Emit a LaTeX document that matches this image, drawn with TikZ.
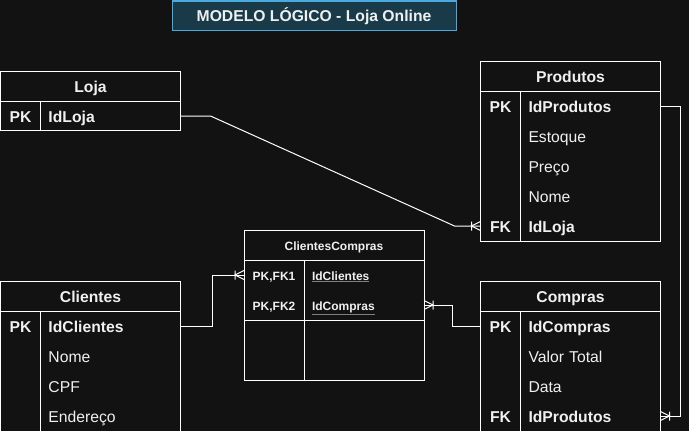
\documentclass[tikz,border=0pt]{standalone}
\usepackage{fontspec}
\setmainfont{Liberation Sans}
\usetikzlibrary{positioning}

\definecolor{bg}{RGB}{18,18,18}
\definecolor{titlefill}{RGB}{24,58,73}
\definecolor{titleline}{RGB}{74,170,221}
\definecolor{ink}{RGB}{240,240,240}

\pgfdeclarearrow{
  name = crowbar,
  setup code = {
    \pgfarrowssettipend{0pt}
    \pgfarrowssetlineend{0pt}
    \pgfarrowssetbackend{-9pt}
    \pgfarrowsupperhullpoint{-9pt}{4.5pt}
    \pgfarrowsupperhullpoint{0pt}{4.5pt}
  },
  drawing code = {
    \pgfsetdash{}{0pt}
    \pgfpathmoveto{\pgfpoint{0pt}{4.5pt}}
    \pgfpathlineto{\pgfpoint{-9pt}{0pt}}
    \pgfpathlineto{\pgfpoint{0pt}{-4.5pt}}
    \pgfpathmoveto{\pgfpoint{-9pt}{4.5pt}}
    \pgfpathlineto{\pgfpoint{-9pt}{-4.5pt}}
    \pgfusepathqstroke
  }
}

\newcommand{\ul}[1]{{\color{gray}\underline{\textcolor{ink}{#1}}}}

\begin{document}
\begin{tikzpicture}[
  x=1pt,
  y=-1pt,
  line width=1pt,
  every node/.style={text=ink, outer sep=0pt},
  big/.style={font=\fontsize{15.7}{18}\selectfont, text height=12pt, text depth=0pt},
  bigb/.style={font=\fontsize{15.7}{18}\selectfont\bfseries, text height=12pt, text depth=0pt},
  small/.style={font=\fontsize{12}{14}\selectfont\bfseries, text height=10pt, text depth=0pt},
  hdr/.style={draw=white, fill=bg, bigb, text height=13pt, minimum width=180pt, minimum height=30pt, inner sep=0pt},
  body/.style={draw=white, minimum width=180pt, inner sep=0pt},
  key/.style={bigb, minimum width=40pt, minimum height=30pt, inner sep=0pt},
  fld/.style={big, anchor=west, text width=124pt, align=left, inner xsep=8pt, inner ysep=0pt, minimum height=30pt},
  fldkey/.style={fld, bigb},
  title/.style={draw=titleline, fill=titlefill, bigb, text height=12.4pt, minimum width=284pt, minimum height=29pt, inner sep=0pt},
  rel/.style={draw=white, line width=1pt, -crowbar}
]

\useasboundingbox[fill=bg] (0,0) rectangle (689,431);

\node[title] (title) at (314,15.5) {MODELO LÓGICO - Loja Online};

\node[hdr] (loja) at (90.5,86) {Loja};
\node[body, minimum height=29pt, below=0pt of loja] (lojaBody) {};
\draw[white] ([xshift=40pt]lojaBody.north west) -- ([xshift=40pt]lojaBody.south west);
\node[key] (lojaPK) at (20.5,116) {PK};
\node[fldkey] (lojaIdLoja) at (40.5,116) {IdLoja};

\node[hdr] (prod) at (570.5,76) {Produtos};
\node[body, minimum height=150pt, below=0pt of prod] (prodBody) {};
\draw[white] ([xshift=40pt]prodBody.north west) -- ([xshift=40pt]prodBody.south west);
\node[key] (prodPK) at (500.5,106) {PK};
\node[fldkey] (prodIdProdutos) at (520.5,106) {IdProdutos};
\node[fld] (prodEstoque) at (520.5,136) {Estoque};
\node[fld] (prodPreco) at (520.5,166) {Preço};
\node[fld] (prodNome) at (520.5,196) {Nome};
\node[key] (prodFK) at (500.5,226) {FK};
\node[fldkey] (prodIdLoja) at (520.5,226) {IdLoja};

\node[hdr, small] (cc) at (334,245) {ClientesCompras};
\node[body, minimum height=60pt, below=0pt of cc] (ccKeys) {};
\node[body, minimum height=60pt, below=0pt of ccKeys] (ccRest) {};
\draw[white] ([xshift=60pt]ccKeys.north west) -- ([xshift=60pt]ccRest.south west);
\node[key, small, minimum width=60pt] (ccPK1) at (274,275) {PK,FK1};
\node[fld, small, text width=104pt] (ccIdClientes) at (304,275) {\ul{IdClientes}};
\node[key, small, minimum width=60pt] (ccPK2) at (274,305) {PK,FK2};
\node[fld, small, text width=104pt] (ccIdCompras) at (304,305) {\ul{IdCompras}};

\node[hdr] (cli) at (90.5,296) {Clientes};
\node[body, minimum height=121pt, below=0pt of cli] (cliBody) {};
\draw[white] ([xshift=40pt]cliBody.north west) -- ([xshift=40pt]cliBody.south west);
\node[key] (cliPK) at (20.5,326) {PK};
\node[fldkey] (cliIdClientes) at (40.5,326) {IdClientes};
\node[fld] (cliNome) at (40.5,356) {Nome};
\node[fld] (cliCPF) at (40.5,386) {CPF};
\node[fld] (cliEndereco) at (40.5,416) {Endereço};

\node[hdr] (comp) at (570.5,296) {Compras};
\node[body, minimum height=121pt, below=0pt of comp] (compBody) {};
\draw[white] ([xshift=40pt]compBody.north west) -- ([xshift=40pt]compBody.south west);
\node[key] (compPK) at (500.5,326) {PK};
\node[fldkey] (compIdCompras) at (520.5,326) {IdCompras};
\node[fld] (compValor) at (520.5,356) {Valor Total};
\node[fld] (compData) at (520.5,386) {Data};
\node[key] (compFK) at (500.5,416) {FK};
\node[fldkey] (compIdProdutos) at (520.5,416) {IdProdutos};

% relacionamentos
\draw[rel] (lojaIdLoja.east) -- ++(30,0) -- ([xshift=-26pt]prodFK.west) -- (prodFK.west);
\draw[rel] (cliIdClientes.east) -- ++(32,0) |- (ccPK1.west);
\draw[rel] (compPK.west) -- ++(-28,0) |- (ccIdCompras.east);
\draw[rel] (prodIdProdutos.east) -- ++(20,0) |- (compIdProdutos.east);

\end{tikzpicture}
\end{document}
